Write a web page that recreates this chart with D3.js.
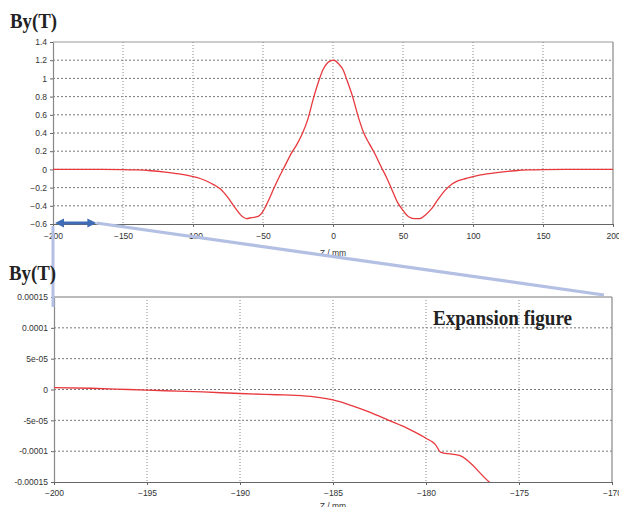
<!DOCTYPE html>
<html>
<head>
<meta charset="UTF-8">
<title>By(T) along Z</title>
<script src="https://d3js.org/d3.v7.min.js"></script>
<style>
  body { margin: 0; background: #fff; }
  svg { display: block; }
  .tick text { font-family: "Liberation Sans", Arial, sans-serif; font-size: 8.5px; fill: #333; }
</style>
</head>
<body>
<svg id="chart" width="619" height="507"></svg>
<script>
// full field profile (top)
const zFull = [-200,-175,-150,-140,-130,-120,-110,-100,-95,-90,-85,-80,-75,-70,-66,-62,-58,-54,-50,-46,-42,-38,-34,-30,-26,-22,-18,-14,-10,-7,-4,-2,0,2,4,7,10,14,18,22,26,30,34,38,42,46,50,54,58,62,66,70,75,80,85,90,95,100,110,120,130,140,150,175,200];
const byFull = [0,0,-0.002,-0.006,-0.015,-0.03,-0.05,-0.08,-0.1,-0.13,-0.17,-0.22,-0.31,-0.42,-0.5,-0.54,-0.53,-0.52,-0.46,-0.34,-0.2,-0.07,0.05,0.17,0.27,0.39,0.55,0.78,0.98,1.1,1.17,1.19,1.2,1.19,1.16,1.1,0.98,0.8,0.58,0.4,0.28,0.17,0.04,-0.08,-0.22,-0.36,-0.45,-0.52,-0.54,-0.54,-0.5,-0.44,-0.33,-0.23,-0.16,-0.12,-0.1,-0.08,-0.05,-0.03,-0.015,-0.006,-0.002,0,0];

// zoomed part, -200..-170 (bottom)
const zZoom = [-200,-198,-196,-194,-192,-190,-188,-187,-186,-185,-184,-183,-182,-181,-180,-179.5,-179.2,-178.2,-176.6,-176];
const byZoom = [3e-6,2e-6,0,-2e-6,-4e-6,-6.5e-6,-8.5e-6,-9.5e-6,-1.2e-5,-1.7e-5,-2.6e-5,-3.7e-5,-5e-5,-6.3e-5,-7.9e-5,-8.9e-5,-1.02e-4,-1.07e-4,-1.5e-4,-1.65e-4];

const topXTicks = [-200,-150,-100,-50,0,50,100,150,200];
const topYTicks = [-0.6,-0.4,-0.2,0,0.2,0.4,0.6,0.8,1,1.2,1.4];
const botXTicks = [-200,-195,-190,-185,-180,-175,-170];
const botYTicks = [-0.00015,-0.0001,-5e-5,0,5e-5,0.0001,0.00015];
const botYLabels = ["-0.00015","-0.0001","-5e-05","0","5e-05","0.0001","0.00015"];

const svg = d3.select("#chart");
const serif = "'Liberation Serif', 'Times New Roman', serif";
const guideLayer = svg.append("g");   // light blue zoom guides, under the titles

function panel(opt) {
  const x = d3.scaleLinear().domain(opt.xDom).range([opt.left, opt.right]);
  const y = d3.scaleLinear().domain(opt.yDom).range([opt.bottom, opt.top]);
  const g = svg.append("g");

  // grid
  g.append("g").selectAll("line").data(opt.yTicks.slice(1, -1)).join("line")
    .attr("x1", opt.left).attr("x2", opt.right)
    .attr("y1", d => y(d)).attr("y2", d => y(d))
    .attr("stroke", "#555").attr("stroke-dasharray", "2,2").attr("stroke-width", 0.8);
  g.append("g").selectAll("line").data(opt.xTicks.slice(1, -1)).join("line")
    .attr("x1", d => x(d)).attr("x2", d => x(d))
    .attr("y1", opt.top).attr("y2", opt.bottom)
    .attr("stroke", "#888").attr("stroke-dasharray", "1,2").attr("stroke-width", 1);

  // frame top/right
  g.append("line").attr("x1", opt.left).attr("x2", opt.right).attr("y1", opt.top).attr("y2", opt.top)
    .attr("stroke", opt.topColor).attr("stroke-width", opt.topWidth);
  g.append("line").attr("x1", opt.right).attr("x2", opt.right).attr("y1", opt.top).attr("y2", opt.bottom)
    .attr("stroke", "#888").attr("stroke-width", 1.2);

  // axes
  const xa = g.append("g").attr("transform", `translate(0,${opt.bottom})`)
    .call(d3.axisBottom(x).tickValues(opt.xTicks).tickSize(3).tickSizeOuter(0).tickFormat(d3.format("d")));
  xa.select(".domain").attr("stroke", "#666").attr("stroke-width", 1.2);
  xa.selectAll(".tick line").attr("stroke", "#666");
  xa.selectAll(".tick text").attr("y", opt.xLabelDy);

  const ya = g.append("g").attr("transform", `translate(${opt.left},0)`)
    .call(d3.axisLeft(y).tickValues(opt.yTicks).tickSize(3).tickSizeOuter(0).tickFormat(opt.yFormat));
  ya.select(".domain").attr("stroke", "#888").attr("stroke-width", 1.2);
  ya.selectAll(".tick line").attr("stroke", "#666");
  ya.selectAll(".tick text").attr("x", -6);

  // curve
  const clipId = "clip" + opt.top;
  svg.append("clipPath").attr("id", clipId).append("rect")
    .attr("x", opt.left).attr("y", opt.top).attr("width", opt.right - opt.left).attr("height", opt.bottom - opt.top);
  g.append("path")
    .datum(opt.xs.map((v, i) => [v, opt.ys[i]]))
    .attr("clip-path", `url(#${clipId})`)
    .attr("fill", "none").attr("stroke", "#e8383d").attr("stroke-width", 1.3)
    .attr("d", d3.line().x(d => x(d[0])).y(d => y(d[1])).curve(d3.curveMonotoneX));

  // titles
  g.append("text").attr("x", (opt.left + opt.right) / 2).attr("y", opt.zTitleY)
    .attr("text-anchor", "middle").attr("font-family", "'Liberation Sans', Arial, sans-serif")
    .attr("font-size", 8.5).attr("fill", "#333").text("Z / mm");
  return { x, y, g };
}

const topP = panel({
  xDom: [-200, 200], yDom: [-0.6, 1.4], left: 53, right: 613, top: 42, bottom: 224,
  xTicks: topXTicks, yTicks: topYTicks, yFormat: d3.format(""), xs: zFull, ys: byFull,
  topColor: "#999", topWidth: 1.2, xLabelDy: 9, zTitleY: 256
});

const botP = panel({
  xDom: [-200, -170], yDom: [-0.00015, 0.00015], left: 54, right: 612, top: 297, bottom: 482,
  xTicks: botXTicks, yTicks: botYTicks, yFormat: (d, i) => botYLabels[i], xs: zZoom, ys: byZoom,
  topColor: "#bbb", topWidth: 2, xLabelDy: 8, zTitleY: 509
});

// zoom annotation: light blue guide lines
const guide = "#b3bfe3";
guideLayer.raise();
guideLayer.append("line").attr("x1", topP.x(-200)).attr("y1", 226).attr("x2", topP.x(-200)).attr("y2", 307)
  .attr("stroke", guide).attr("stroke-width", 3);
guideLayer.append("line").attr("x1", topP.x(-169)).attr("y1", topP.y(-0.6) - 1).attr("x2", 604).attr("y2", 295)
  .attr("stroke", guide).attr("stroke-width", 3.2);

// double arrow marking the zoomed range
const arrowC = "#3f6db5";
const ax1 = topP.x(-200) + 2, ax2 = topP.x(-169), ay = topP.y(-0.6) - 1;
svg.append("line").attr("x1", ax1 + 7).attr("x2", ax2 - 7).attr("y1", ay).attr("y2", ay)
  .attr("stroke", arrowC).attr("stroke-width", 3);
svg.append("path").attr("d", `M${ax1},${ay} L${ax1 + 9},${ay - 4.5} L${ax1 + 9},${ay + 4.5} Z`).attr("fill", arrowC);
svg.append("path").attr("d", `M${ax2},${ay} L${ax2 - 9},${ay - 4.5} L${ax2 - 9},${ay + 4.5} Z`).attr("fill", arrowC);

// bold titles on top of everything
[[10, 28], [9, 280]].forEach(([tx, ty]) => {
  svg.append("text").attr("x", tx).attr("y", ty)
    .attr("font-family", serif).attr("font-weight", "bold").attr("font-size", 22)
    .attr("textLength", 47).attr("lengthAdjust", "spacingAndGlyphs")
    .attr("fill", "#222").text("By(T)");
});
svg.append("text").attr("x", 433).attr("y", 325)
  .attr("font-family", serif).attr("font-weight", "bold").attr("font-size", 22)
  .attr("textLength", 139).attr("lengthAdjust", "spacingAndGlyphs")
  .attr("fill", "#222").text("Expansion figure");
</script>
</body>
</html>
